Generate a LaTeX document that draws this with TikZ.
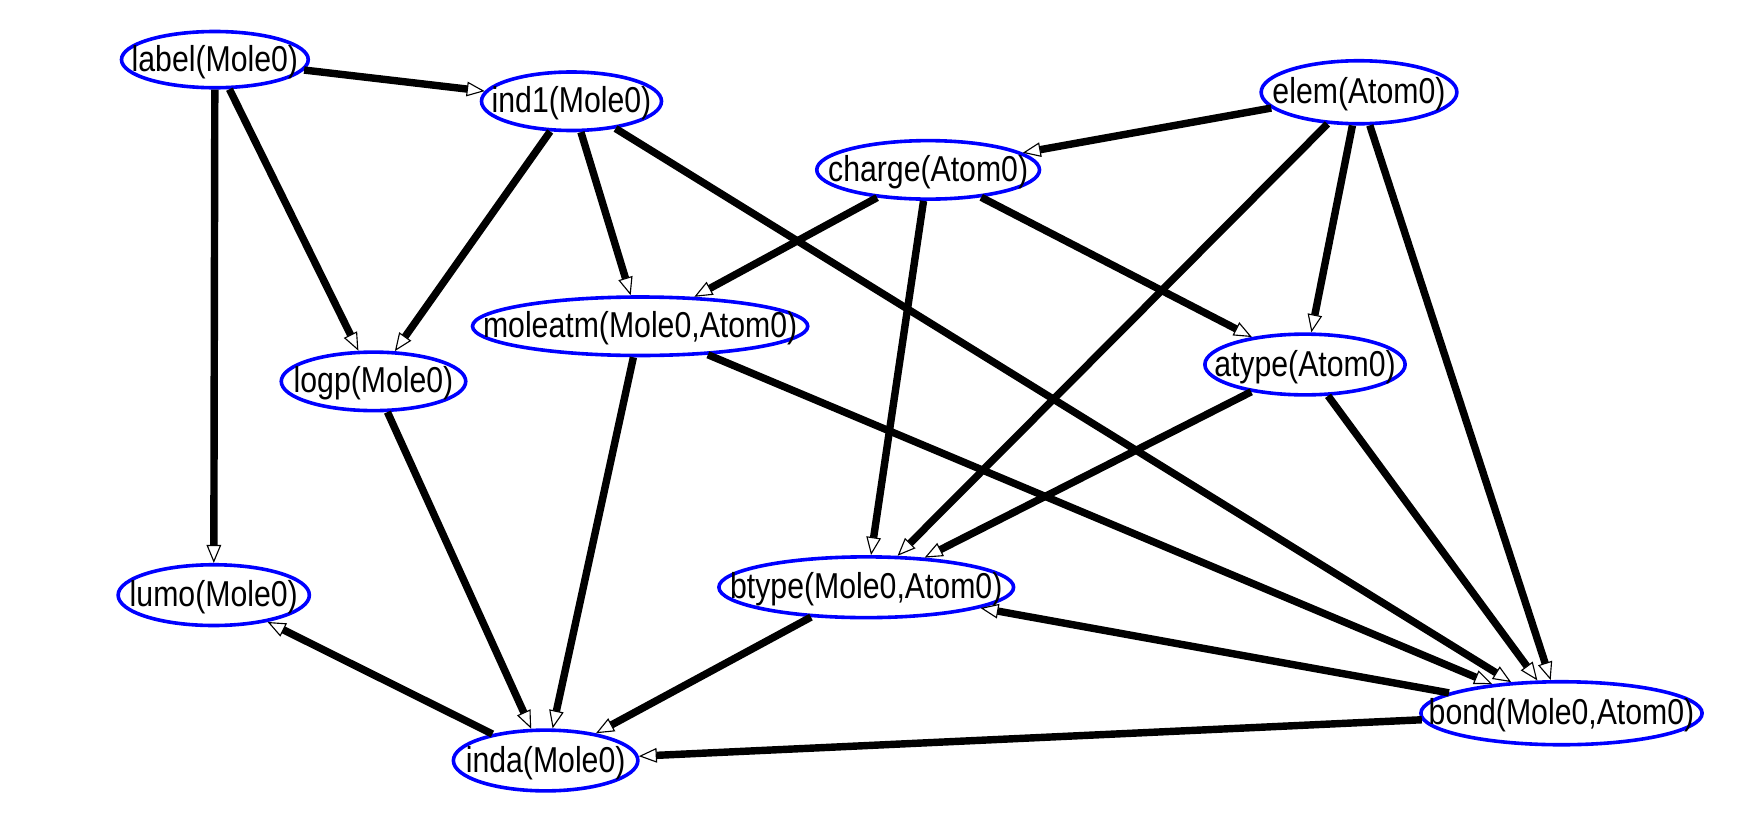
\documentclass[tikz,border=0pt]{standalone}
\usepackage{fontspec}
\setmainfont{Liberation Sans}[FakeStretch=0.84]
\usetikzlibrary{arrows.meta,shapes.geometric}
\begin{document}
\begin{tikzpicture}[x=0.5pt,y=-0.5pt,
  ell/.style={ellipse, draw=blue, line width=1.6pt, inner sep=0pt, fill=white},
  txt/.style={font=\fontsize{16}{19}\selectfont, yshift=-1pt},
  conn/.style={line width=3.3pt, -{Triangle[open, length=8pt, width=6.5pt, line width=0.5pt]}},
]
\useasboundingbox (0,0) rectangle (1568,728);
\fill[white] (0,0) rectangle (1568,728);
\node[ell, minimum width=83pt, minimum height=25pt, label={[txt]center:label(Mole0)}] (lab) at (191,53) {};
\node[ell, minimum width=80pt, minimum height=26pt, label={[txt]center:ind1(Mole0)}] (ind1) at (508,90) {};
\node[ell, minimum width=87pt, minimum height=28pt, label={[txt]center:elem(Atom0)}] (elem) at (1208,82) {};
\node[ell, minimum width=99pt, minimum height=26pt, label={[txt]center:charge(Atom0)}] (charge) at (825,151) {};
\node[ell, minimum width=149pt, minimum height=26pt, label={[txt]center:moleatm(Mole0,Atom0)}] (moleatm) at (569,290) {};
\node[ell, minimum width=82pt, minimum height=26pt, label={[txt]center:logp(Mole0)}] (logp) at (332,339) {};
\node[ell, minimum width=89pt, minimum height=27pt, label={[txt]center:atype(Atom0)}] (atype) at (1160,324) {};
\node[ell, minimum width=85pt, minimum height=27pt, label={[txt]center:lumo(Mole0)}] (lumo) at (190,529) {};
\node[ell, minimum width=131pt, minimum height=27pt, label={[txt]center:btype(Mole0,Atom0)}] (btype) at (770,522) {};
\node[ell, minimum width=125pt, minimum height=28pt, label={[txt]center:bond(Mole0,Atom0)}] (bond) at (1388,634) {};
\node[ell, minimum width=82pt, minimum height=27pt, label={[txt]center:inda(Mole0)}] (inda) at (485,676) {};

\draw[conn] (lab) -- (ind1);
\draw[conn] (lab) -- (logp);
\draw[conn] (lab) -- (lumo);
\draw[conn] (ind1) -- (logp);
\draw[conn] (ind1) -- (moleatm);
\draw[conn] (ind1) -- (bond);
\draw[conn] (elem) -- (charge);
\draw[conn] (elem) -- (btype);
\draw[conn] (elem) -- (atype);
\draw[conn] (elem) -- (bond);
\draw[conn] (charge) -- (moleatm);
\draw[conn] (charge) -- (btype);
\draw[conn] (charge) -- (atype);
\draw[conn] (moleatm) -- (inda);
\draw[conn] (moleatm) -- (bond);
\draw[conn] (logp) -- (inda);
\draw[conn] (atype) -- (btype);
\draw[conn] (atype) -- (bond);
\draw[conn] (btype) -- (inda);
\draw[conn] (bond) -- (btype);
\draw[conn] (bond) -- (inda);
\draw[conn] (inda) -- (lumo);
\end{tikzpicture}
\end{document}
